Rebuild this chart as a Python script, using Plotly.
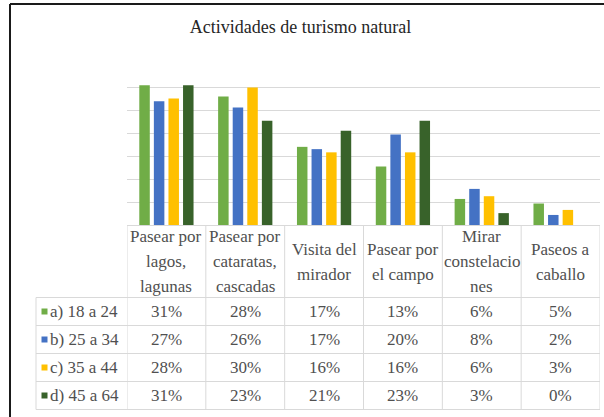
import plotly.graph_objects as go

# data (percent)
categories = ["Pasear por\nlagos,\nlagunas", "Pasear por\ncataratas,\ncascadas", "Visita del\nmirador",
              "Pasear por\nel campo", "Mirar\nconstelacio\nnes", "Paseos a\ncaballo"]
age_groups = ["a) 18 a 24", "b) 25 a 34", "c) 35 a 44", "d) 45 a 64"]
group_a = [30.6, 28.1, 17.1, 12.8, 5.7, 4.7]
group_b = [27.1, 25.7, 16.6, 19.8, 7.9, 2.2]
group_c = [27.7, 30.1, 15.9, 15.9, 6.3, 3.3]
group_d = [30.6, 22.8, 20.6, 22.8, 2.6, 0.0]
colors = ["#70AD47", "#4472C4", "#FFC000", "#38622A"]

W, H = 604, 417
L, R, T, B = 127, 600, 65, 225   # plot area in pixels
GRID = "#d9d9d9"
TXT = "#505050"
FONT = "Liberation Serif, Times New Roman, serif"


def px(x):
    return (x - L) / (R - L)


def py(y):
    return (B - y) / (B - T)


series = [group_a, group_b, group_c, group_d]
xs = list(range(len(categories)))

fig = go.Figure()
for name, vals, c in zip(age_groups, series, colors):
    fig.add_trace(go.Bar(x=xs, y=vals, name=name, marker_color=c, marker_line_width=0))

shapes = []
annotations = []

# table grid
row_lines = [297.5, 325.5, 353.5, 381.5, 409.5]
for y in row_lines:
    shapes.append(dict(type="line", xref="paper", yref="paper", x0=px(36), x1=px(R),
                       y0=py(y), y1=py(y), line=dict(color=GRID, width=1)))
for i in range(len(categories) + 1):
    shapes.append(dict(type="line", xref="x", yref="paper", x0=i - 0.5, x1=i - 0.5,
                       y0=py(B), y1=py(row_lines[-1]), line=dict(color=GRID, width=1)))
shapes.append(dict(type="line", xref="paper", yref="paper", x0=px(36), x1=px(36),
                   y0=py(row_lines[0]), y1=py(row_lines[-1]), line=dict(color=GRID, width=1)))

# header cells, one annotation per line
for i, cat in enumerate(categories):
    lines = cat.split("\n")
    n = len(lines)
    for k, line in enumerate(lines):
        yc = 261.7 + (k - (n - 1) / 2) * 25
        annotations.append(dict(x=i, y=py(yc), xref="x", yref="paper", text=line, showarrow=False,
                                xanchor="center", yanchor="middle",
                                font=dict(family=FONT, size=17, color=TXT)))

# data rows
for r, (name, vals, c) in enumerate(zip(age_groups, series, colors)):
    yc = (row_lines[r] + row_lines[r + 1]) / 2
    shapes.append(dict(type="rect", xref="paper", yref="paper", x0=px(41.5), x1=px(47.5),
                       y0=py(yc - 3), y1=py(yc + 3), fillcolor=c, line=dict(width=0)))
    annotations.append(dict(x=px(48), y=py(yc), xref="paper", yref="paper", text=name, showarrow=False,
                            xanchor="left", yanchor="middle",
                            font=dict(family=FONT, size=17, color=TXT)))
    for i, v in enumerate(vals):
        annotations.append(dict(x=i, y=py(yc), xref="x", yref="paper", text=f"{v:.0f}%", showarrow=False,
                                xanchor="center", yanchor="middle",
                                font=dict(family=FONT, size=17, color=TXT)))

# outer frame (left and top edges visible in the reference)
FRAME = dict(color="#1a1a1a", width=2)
shapes.append(dict(type="line", xref="paper", yref="paper", x0=px(10), x1=px(10),
                   y0=py(4), y1=py(H + 5), line=FRAME, layer="above"))
shapes.append(dict(type="line", xref="paper", yref="paper", x0=px(10), x1=1,
                   y0=py(4), y1=py(4), line=FRAME, layer="above"))
shapes.append(dict(type="line", xref="paper", yref="paper", x0=1, x1=px(W + 5),
                   y0=py(4), y1=py(4), line=FRAME, layer="above"))

fig.update_layout(
    width=W, height=H,
    margin=dict(l=L, r=W - R, t=T, b=H - B, pad=0),
    paper_bgcolor="white", plot_bgcolor="white",
    showlegend=False,
    barmode="group", bargap=0.26, bargroupgap=0.28,
    title=dict(text="Actividades de turismo natural", x=300.5 / W, xanchor="center",
               y=1 - 27 / H, yanchor="middle", font=dict(family=FONT, size=18, color="#262626")),
    xaxis=dict(range=[-0.5, len(categories) - 0.5], showticklabels=False, showgrid=False,
               zeroline=False, showline=True, linecolor=GRID, linewidth=1, ticks=""),
    yaxis=dict(range=[0, 35.01], dtick=5, showticklabels=False, showgrid=True, gridcolor=GRID,
               gridwidth=1, zeroline=False, ticks=""),
    shapes=shapes,
    annotations=annotations,
)

# the page body has a default 8px margin; drop it so the figure sits at the window corner
fig.write_html("out.html", config={"displayModeBar": False},
               post_script="document.body.style.margin='0';")
